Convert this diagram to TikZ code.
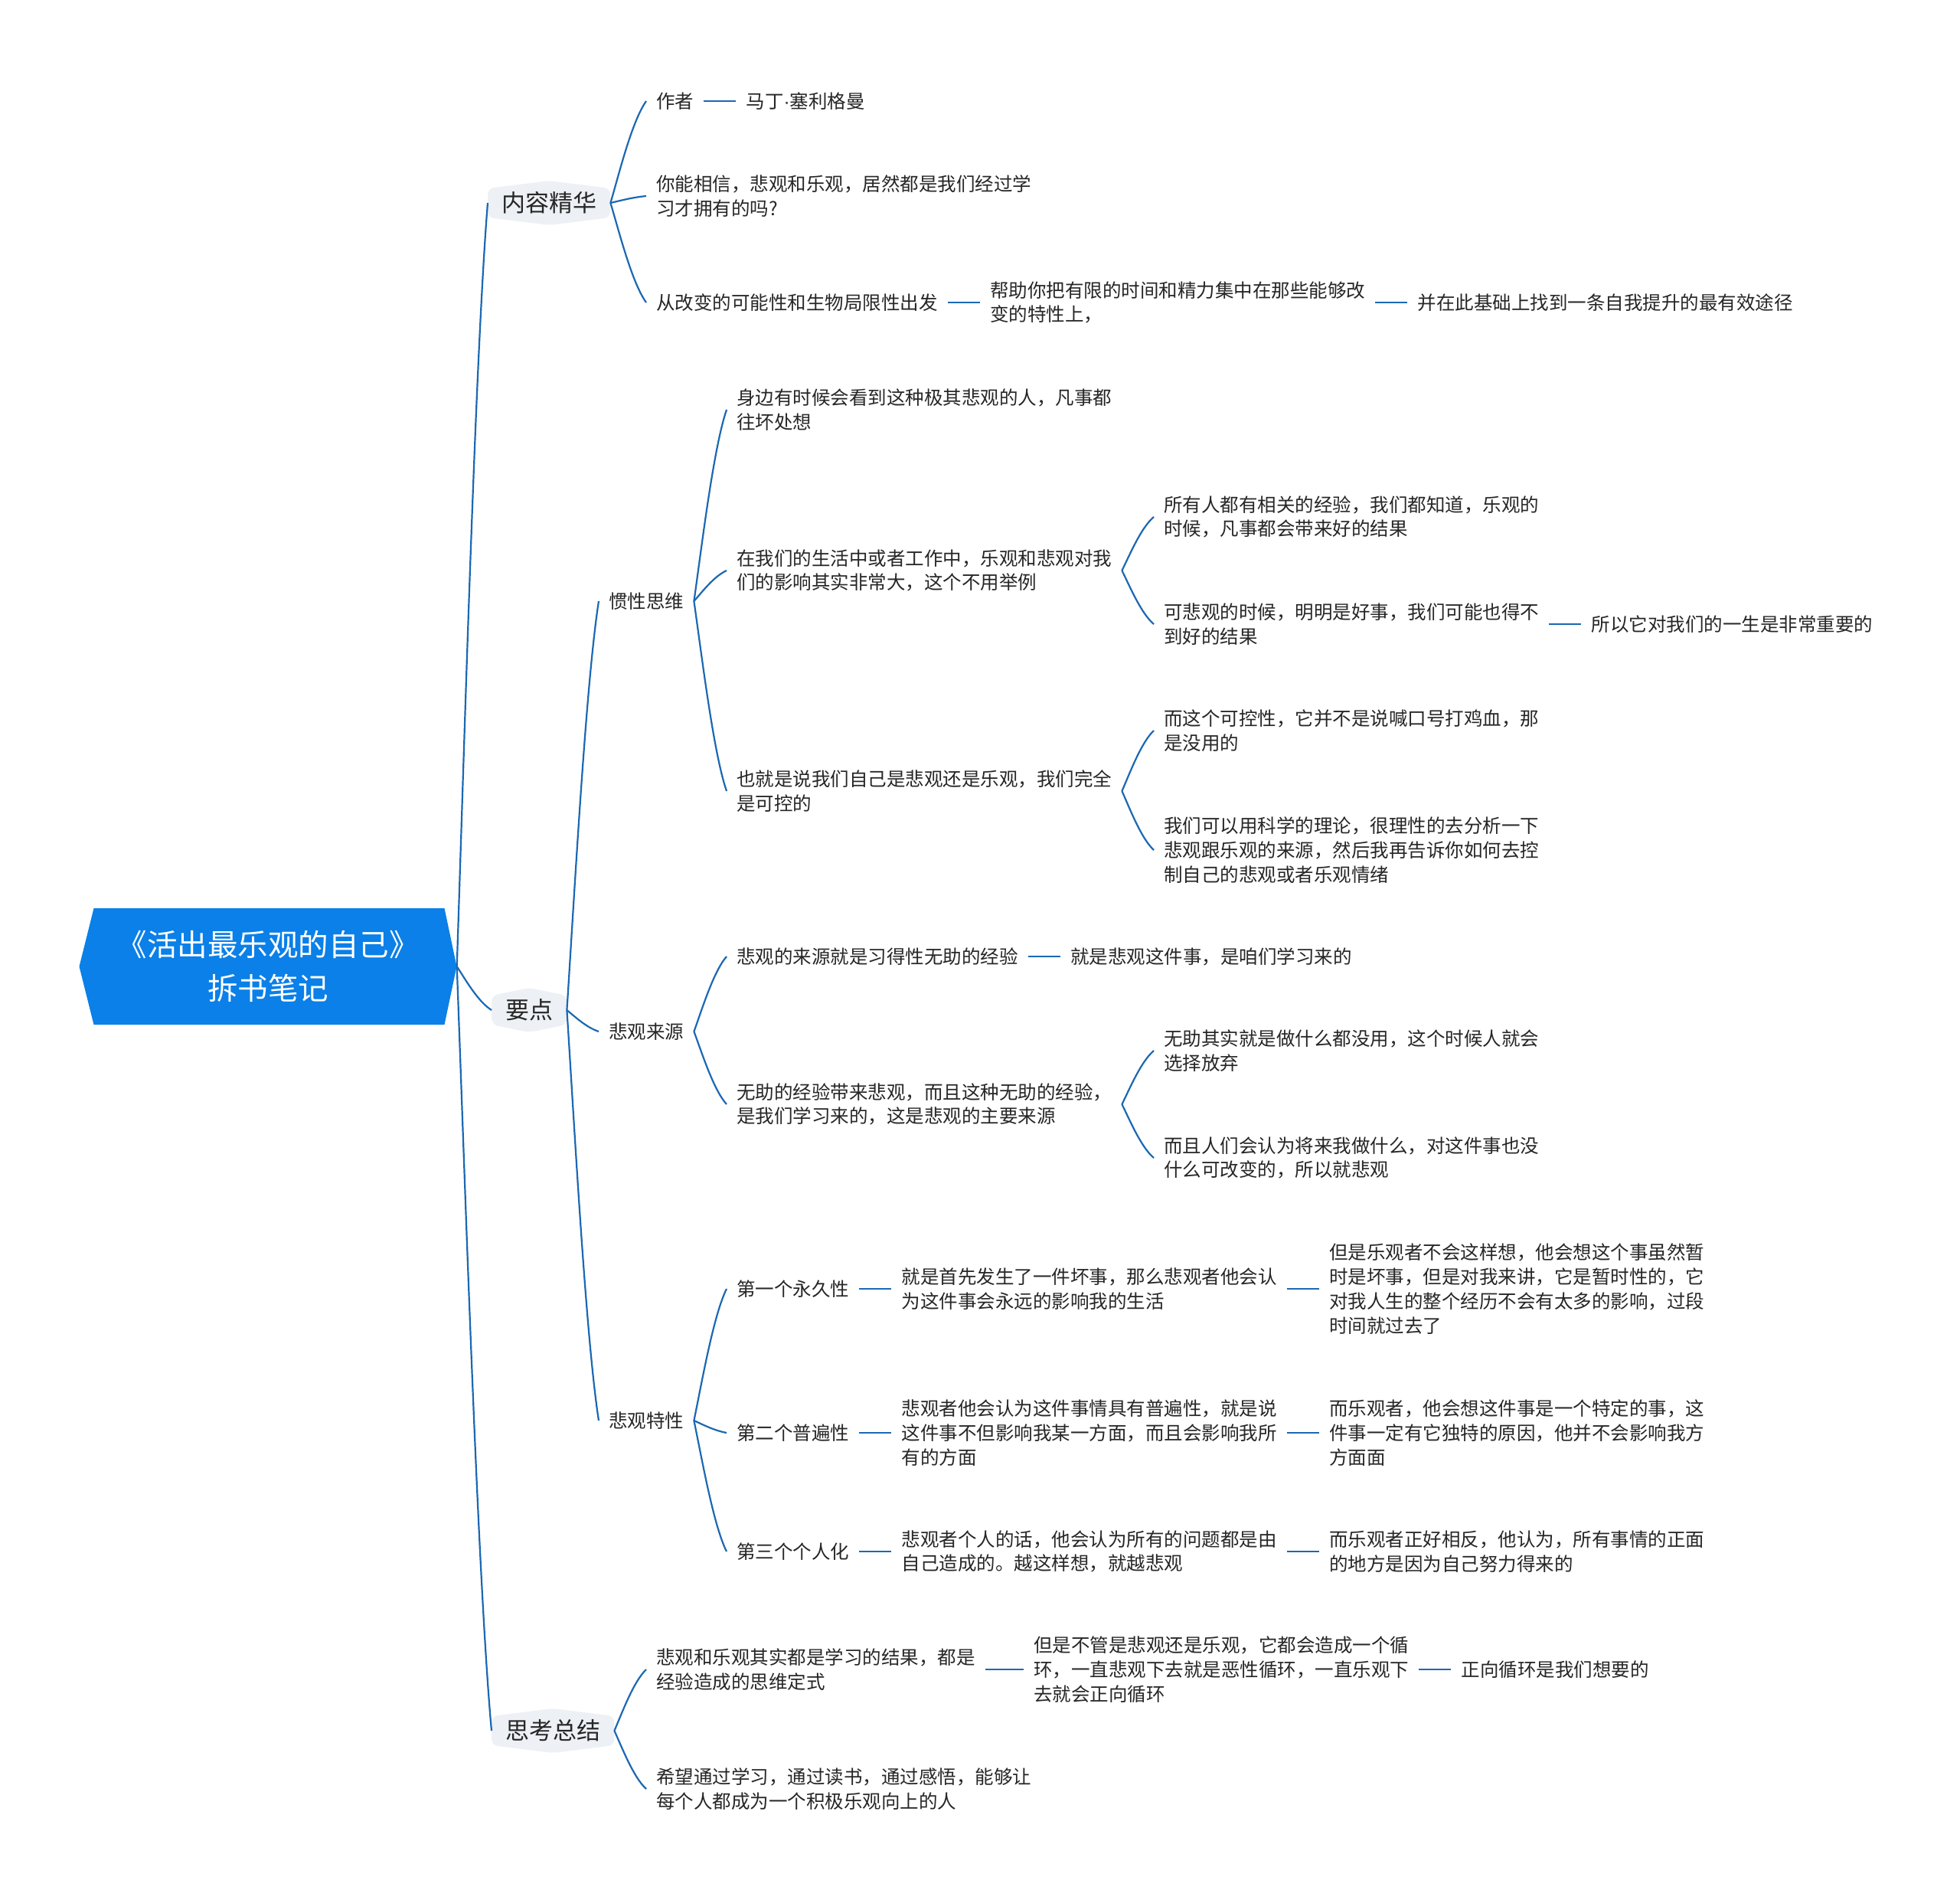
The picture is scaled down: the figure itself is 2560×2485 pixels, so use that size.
\documentclass[tikz,border=0pt]{standalone}
\usepackage{fontspec}
\setmainfont{Noto Sans CJK SC}
\newfontfamily\latinfont{Liberation Sans}
\usetikzlibrary{calc,positioning}
\definecolor{rootblue}{HTML}{0A80E8}
\definecolor{linkblue}{HTML}{1B68B3}
\definecolor{topicgray}{HTML}{EDF0F4}
\definecolor{inkgray}{HTML}{262626}
\tikzset{
  root/.style={minimum width=493pt, minimum height=152pt, inner sep=0pt, align=center,
    text=white, font=\fontsize{39.5}{57}\selectfont,
    path picture={\fill[rootblue] (path picture bounding box.west)
      -- ([xshift=19pt]path picture bounding box.north west)
      -- ([xshift=-16pt]path picture bounding box.north east)
      -- (path picture bounding box.east)
      -- ([xshift=-16pt]path picture bounding box.south east)
      -- ([xshift=19pt]path picture bounding box.south west) -- cycle;}},
  topic/.style={anchor=west, minimum height=58pt, inner xsep=18pt, text=inkgray,
    font=\fontsize{31}{36}\selectfont,
    path picture={\fill[topicgray, rounded corners=8pt] (path picture bounding box.north)
      -- ([yshift=-10pt]path picture bounding box.north east)
      -- ([yshift=10pt]path picture bounding box.south east)
      -- (path picture bounding box.south)
      -- ([yshift=10pt]path picture bounding box.south west)
      -- ([yshift=-10pt]path picture bounding box.north west) -- cycle;}},
  leaf/.style={anchor=west, inner xsep=13pt, inner ysep=4pt, align=left, text=inkgray,
    font=\fontsize{24.5}{31.8}\selectfont},
  branch/.style={draw=linkblue, line width=2.2pt},
  bridge/.style={draw=linkblue, line width=2.6pt},
}
% curved link from parent to child
\newcommand\topiclink[2]{\draw[branch] let \p1=(#1.east), \p2=(#2.west) in
  (\p1) .. controls ({\x1+0.25*(\x2-\x1)},{\y1+0.3*(\y2-\y1)})
  and ({\x2-0.4*(\x2-\x1)},{\y2-0.2*(\y2-\y1)}) .. (\p2);}

\begin{document}
\begin{tikzpicture}[x=1pt, y=-1pt]

  \fill[white] (0,0) rectangle (2560,2485);

  % root and main topics
  \node[root] (book) at (350,1262) {《活出最乐观的自己》\\拆书笔记};
  \node[topic] (essence) at (637,265) {内容精华};
  \node[topic] (points) at (642,1319) {要点};
  \node[topic] (review) at (642,2260) {思考总结};

  % 内容精华
  \node[leaf] (author) at (844,132) {作者};
  \node[leaf, right=42pt of author] (authorname) {马丁{\latinfont ·}塞利格曼};
  \node[leaf] (believe) at (844,256) {你能相信，悲观和乐观，居然都是我们经过学\\习才拥有的吗?};
  \node[leaf] (start) at (844,395) {从改变的可能性和生物局限性出发};
  \node[leaf, right=42pt of start] (focus) {帮助你把有限的时间和精力集中在那些能够改\\变的特性上，};
  \node[leaf, right=42pt of focus] (path) {并在此基础上找到一条自我提升的最有效途径};

  % 要点
  \node[leaf] (habit) at (782,785) {惯性思维};
  \node[leaf] (source) at (782,1347) {悲观来源};
  \node[leaf] (traits) at (782,1855) {悲观特性};

  % 惯性思维
  \node[leaf] (gloomy) at (949,535) {身边有时候会看到这种极其悲观的人，凡事都\\往坏处想};
  \node[leaf] (impact) at (949,745) {在我们的生活中或者工作中，乐观和悲观对我\\们的影响其实非常大，这个不用举例};
  \node[leaf] (control) at (949,1033) {也就是说我们自己是悲观还是乐观，我们完全\\是可控的};
  \node[leaf] (good) at (1507,675) {所有人都有相关的经验，我们都知道，乐观的\\时候，凡事都会带来好的结果};
  \node[leaf] (bad) at (1507,815) {可悲观的时候，明明是好事，我们可能也得不\\到好的结果};
  \node[leaf, right=42pt of bad] (matter) {所以它对我们的一生是非常重要的};
  \node[leaf] (slogan) at (1507,954) {而这个可控性，它并不是说喊口号打鸡血，那\\是没用的};
  \node[leaf] (science) at (1507,1110) {我们可以用科学的理论，很理性的去分析一下\\悲观跟乐观的来源，然后我再告诉你如何去控\\制自己的悲观或者乐观情绪};

  % 悲观来源
  \node[leaf] (learned) at (949,1249) {悲观的来源就是习得性无助的经验};
  \node[leaf, right=42pt of learned] (taught) {就是悲观这件事，是咱们学习来的};
  \node[leaf] (helpless) at (949,1442) {无助的经验带来悲观，而且这种无助的经验，\\是我们学习来的，这是悲观的主要来源};
  \node[leaf] (giveup) at (1507,1372) {无助其实就是做什么都没用，这个时候人就会\\选择放弃};
  \node[leaf] (nochange) at (1507,1512) {而且人们会认为将来我做什么，对这件事也没\\什么可改变的，所以就悲观};

  % 悲观特性
  \node[leaf] (lasting) at (949,1683) {第一个永久性};
  \node[leaf, right=42pt of lasting] (lastingbad) {就是首先发生了一件坏事，那么悲观者他会认\\为这件事会永远的影响我的生活};
  \node[leaf, right=42pt of lastingbad] (lastinggood) {但是乐观者不会这样想，他会想这个事虽然暂\\时是坏事，但是对我来讲，它是暂时性的，它\\对我人生的整个经历不会有太多的影响，过段\\时间就过去了};
  \node[leaf] (spread) at (949,1871) {第二个普遍性};
  \node[leaf, right=42pt of spread] (spreadbad) {悲观者他会认为这件事情具有普遍性，就是说\\这件事不但影响我某一方面，而且会影响我所\\有的方面};
  \node[leaf, right=42pt of spreadbad] (spreadgood) {而乐观者，他会想这件事是一个特定的事，这\\件事一定有它独特的原因，他并不会影响我方\\方面面};
  \node[leaf] (self) at (949,2026) {第三个个人化};
  \node[leaf, right=42pt of self] (selfbad) {悲观者个人的话，他会认为所有的问题都是由\\自己造成的。越这样想，就越悲观};
  \node[leaf, right=42pt of selfbad] (selfgood) {而乐观者正好相反，他认为，所有事情的正面\\的地方是因为自己努力得来的};

  % 思考总结
  \node[leaf] (result) at (844,2180) {悲观和乐观其实都是学习的结果，都是\\经验造成的思维定式};
  \node[leaf, right=50pt of result] (cycle) {但是不管是悲观还是乐观，它都会造成一个循\\环，一直悲观下去就是恶性循环，一直乐观下\\去就会正向循环};
  \node[leaf, right=42pt of cycle] (wanted) {正向循环是我们想要的};
  \node[leaf] (hope) at (844,2336) {希望通过学习，通过读书，通过感悟，能够让\\每个人都成为一个积极乐观向上的人};

  % curved links
  \foreach \kid in {essence,points,review} \topiclink{book}{\kid};
  \foreach \kid in {author,believe,start} \topiclink{essence}{\kid};
  \foreach \kid in {habit,source,traits} \topiclink{points}{\kid};
  \foreach \kid in {gloomy,impact,control} \topiclink{habit}{\kid};
  \foreach \kid in {good,bad} \topiclink{impact}{\kid};
  \foreach \kid in {slogan,science} \topiclink{control}{\kid};
  \foreach \kid in {learned,helpless} \topiclink{source}{\kid};
  \foreach \kid in {giveup,nochange} \topiclink{helpless}{\kid};
  \foreach \kid in {lasting,spread,self} \topiclink{traits}{\kid};
  \foreach \kid in {result,hope} \topiclink{review}{\kid};

  % straight links
  \foreach \a/\b in {author/authorname, start/focus, focus/path, bad/matter,
      learned/taught, lasting/lastingbad, lastingbad/lastinggood,
      spread/spreadbad, spreadbad/spreadgood, self/selfbad, selfbad/selfgood,
      result/cycle, cycle/wanted}
    \draw[bridge] (\a.east) -- (\b.west);

\end{tikzpicture}
\end{document}
